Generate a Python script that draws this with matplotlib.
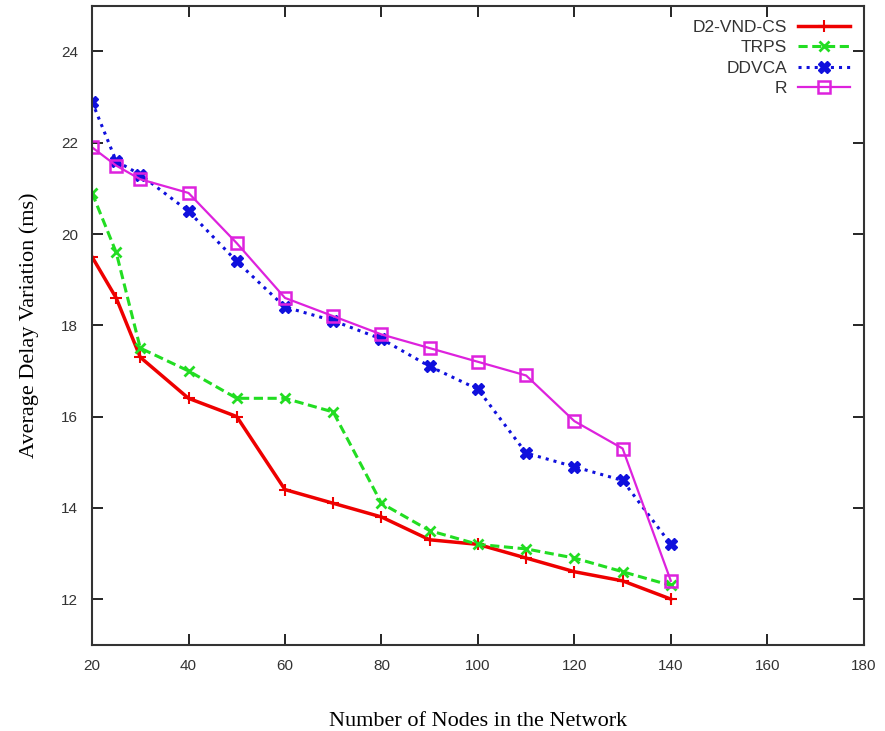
import numpy as np
import matplotlib.pyplot as plt

nodes = [20, 25, 30, 40, 50, 60, 70, 80, 90, 100, 110, 120, 130, 140]
d2vnd = [19.5, 18.6, 17.3, 16.4, 16.0, 14.4, 14.1, 13.8, 13.3, 13.2, 12.9, 12.6, 12.4, 12.0]
trps = [20.9, 19.6, 17.5, 17.0, 16.4, 16.4, 16.1, 14.1, 13.5, 13.2, 13.1, 12.9, 12.6, 12.3]
ddvca = [22.9, 21.6, 21.3, 20.5, 19.4, 18.4, 18.1, 17.7, 17.1, 16.6, 15.2, 14.9, 14.6, 13.2]
r_vals = [21.9, 21.5, 21.2, 20.9, 19.8, 18.6, 18.2, 17.8, 17.5, 17.2, 16.9, 15.9, 15.3, 12.4]

xticks = np.arange(20, 181, 20)
yticks = np.arange(12, 25, 2)

fig = plt.figure(figsize=(8.85, 7.31), dpi=100)
ax = fig.add_axes([0.104, 0.118, 0.872, 0.874])

ax.plot(nodes, d2vnd, color='#ee0000', lw=2.5, ls='-', marker='+', ms=8, mew=1.5, label='D2-VND-CS')
ax.plot(nodes, trps, color='#22dd22', lw=2.2, ls='--', dashes=(3, 1.5), marker='x', ms=7, mew=2, label='TRPS')
ax.plot(nodes, ddvca, color='#1010dd', lw=2.2, ls=':', marker='X', ms=8, label='DDVCA')
ax.plot(nodes, r_vals, color='#dd22dd', lw=1.6, ls='-', marker='s', ms=9, mfc='none', mew=1.8, label='R')

ax.set_xlim(20, 180)
ax.set_ylim(11, 25)
ax.set_xticks(xticks)
ax.set_yticks(yticks)
ax.tick_params(direction='in', top=True, right=True, length=8, width=1.2,
               labelsize=11, labelcolor='#333333', pad=10)
for lab in ax.get_xticklabels() + ax.get_yticklabels():
    lab.set_family('Liberation Sans')
for s in ax.spines.values():
    s.set_linewidth(1.5)
    s.set_color('#333333')

ax.set_xlabel('Number of Nodes in the Network', family='Liberation Serif', fontsize=16, labelpad=28)
ax.set_ylabel('Average Delay Variation (ms)', family='Liberation Serif', fontsize=16, labelpad=16)

leg = ax.legend(loc='upper right', frameon=False, markerfirst=False, handlelength=3,
                prop={'family': 'Liberation Sans', 'size': 12.5}, labelspacing=0.3,
                borderaxespad=0.4, handletextpad=0.6)
for t in leg.get_texts():
    t.set_color('#333333')

fig.savefig('out.png', dpi=100)
